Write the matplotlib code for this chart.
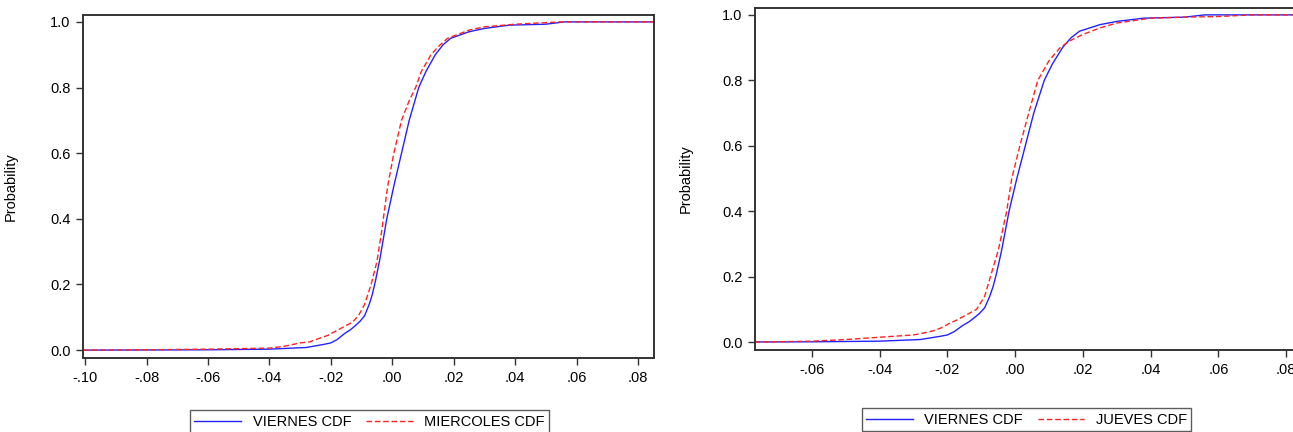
import numpy as np
import matplotlib.pyplot as plt

plt.rcParams['font.family'] = ['Liberation Sans', 'DejaVu Sans']

viernes_x = [-0.1005, -0.06, -0.04, -0.028, -0.022, -0.020, -0.018, -0.0156, -0.0135, -0.012,
             -0.0105, -0.009, -0.0075, -0.0065, -0.0055, -0.004, -0.0018, 0.0005, 0.003, 0.0055,
             0.0086, 0.011, 0.014, 0.0165, 0.019, 0.025, 0.030, 0.038, 0.050, 0.056, 0.0855]
viernes_p = [0.0, 0.001, 0.003, 0.008, 0.018, 0.022, 0.032, 0.05, 0.063, 0.075,
             0.088, 0.105, 0.14, 0.17, 0.21, 0.28, 0.40, 0.50, 0.60, 0.70,
             0.80, 0.85, 0.90, 0.93, 0.95, 0.97, 0.98, 0.99, 0.993, 1.0, 1.0]

miercoles_x = [-0.1005, -0.08, -0.06, -0.04, -0.035, -0.030, -0.027, -0.024, -0.021, -0.019,
               -0.016, -0.013, -0.011, -0.009, -0.0069, -0.005, -0.0035, -0.0015, 0.0005, 0.003,
               0.0055, 0.0076, 0.0095, 0.0126, 0.015, 0.018, 0.025, 0.030, 0.040, 0.055, 0.0855]
miercoles_p = [0.0, 0.001, 0.003, 0.006, 0.012, 0.022, 0.025, 0.035, 0.045, 0.055,
               0.07, 0.085, 0.105, 0.14, 0.20, 0.27, 0.36, 0.50, 0.60, 0.70,
               0.76, 0.80, 0.85, 0.90, 0.925, 0.95, 0.975, 0.985, 0.993, 1.0, 1.0]

jueves_x = [-0.0768, -0.06, -0.05, -0.04, -0.03, -0.027, -0.024, -0.0215, -0.019, -0.0177,
            -0.015, -0.0114, -0.009, -0.0073, -0.005, -0.0025, -0.001, 0.0014, 0.004, 0.0067,
            0.010, 0.0133, 0.016, 0.018, 0.020, 0.025, 0.030, 0.040, 0.050, 0.060, 0.070, 0.085]
jueves_p = [0.0, 0.003, 0.008, 0.015, 0.022, 0.028, 0.035, 0.045, 0.06, 0.065,
            0.08, 0.10, 0.14, 0.20, 0.28, 0.40, 0.50, 0.60, 0.70, 0.80,
            0.86, 0.90, 0.92, 0.93, 0.94, 0.96, 0.975, 0.99, 0.993, 0.995, 1.0, 1.0]

W, H = 1293, 432
fig = plt.figure(figsize=(W / 100, H / 100), dpi=100)

def style(ax, xlim, xticks):
    ax.set_xlim(*xlim)
    ax.set_ylim(-0.024, 1.021)
    ax.set_xticks(xticks)
    ax.set_xticklabels([('%.2f' % t).replace('0.', '.') for t in xticks])
    ax.set_yticks([0.0, 0.2, 0.4, 0.6, 0.8, 1.0])
    ax.set_yticklabels(['0.0', '0.2', '0.4', '0.6', '0.8', '1.0'])
    ax.tick_params(labelsize=10.5, length=5, width=1, color='#333333', pad=4)
    for s in ax.spines.values():
        s.set_linewidth(1.4)
        s.set_color('#333333')
    ax.set_ylabel('Probability', fontsize=10.5)

# left panel
ax1 = fig.add_axes([83 / W, 1 - 358 / H, (654 - 83) / W, (358 - 15) / H])
l1, = ax1.plot(viernes_x, viernes_p, color='#2222ff', lw=1.0, label='VIERNES CDF')
l2, = ax1.plot(miercoles_x, miercoles_p, color='#ff2222', lw=1.0, ls=(0, (4, 2)), label='MIERCOLES CDF')
style(ax1, (-0.1007, 0.0852), [-0.10, -0.08, -0.06, -0.04, -0.02, 0.0, 0.02, 0.04, 0.06, 0.08])
ax1.yaxis.set_label_coords(-0.115, 0.5)
fig.legend(handles=[l1, l2], loc='upper center', bbox_to_anchor=(369.5 / W, 1 - 403 / H),
           ncol=2, fontsize=10.5, frameon=True, fancybox=False, edgecolor='#333333',
           handlelength=3.2, columnspacing=1.0, borderpad=0.3)

# right panel
ax2 = fig.add_axes([755 / W, 1 - 350 / H, (1300 - 755) / W, (350 - 8) / H])
r1, = ax2.plot(viernes_x, viernes_p, color='#2222ff', lw=1.0, label='VIERNES CDF')
r2, = ax2.plot(jueves_x, jueves_p, color='#ff2222', lw=1.0, ls=(0, (4, 2)), label='JUEVES CDF')
style(ax2, (-0.0768, 0.0841), [-0.06, -0.04, -0.02, 0.0, 0.02, 0.04, 0.06, 0.08])
ax2.yaxis.set_label_coords(-0.115, 0.5)
fig.legend(handles=[r1, r2], loc='upper center', bbox_to_anchor=(1026.5 / W, 1 - 401 / H),
           ncol=2, fontsize=10.5, frameon=True, fancybox=False, edgecolor='#333333',
           handlelength=3.2, columnspacing=1.0, borderpad=0.3)

fig.savefig('out.png', dpi=100)
